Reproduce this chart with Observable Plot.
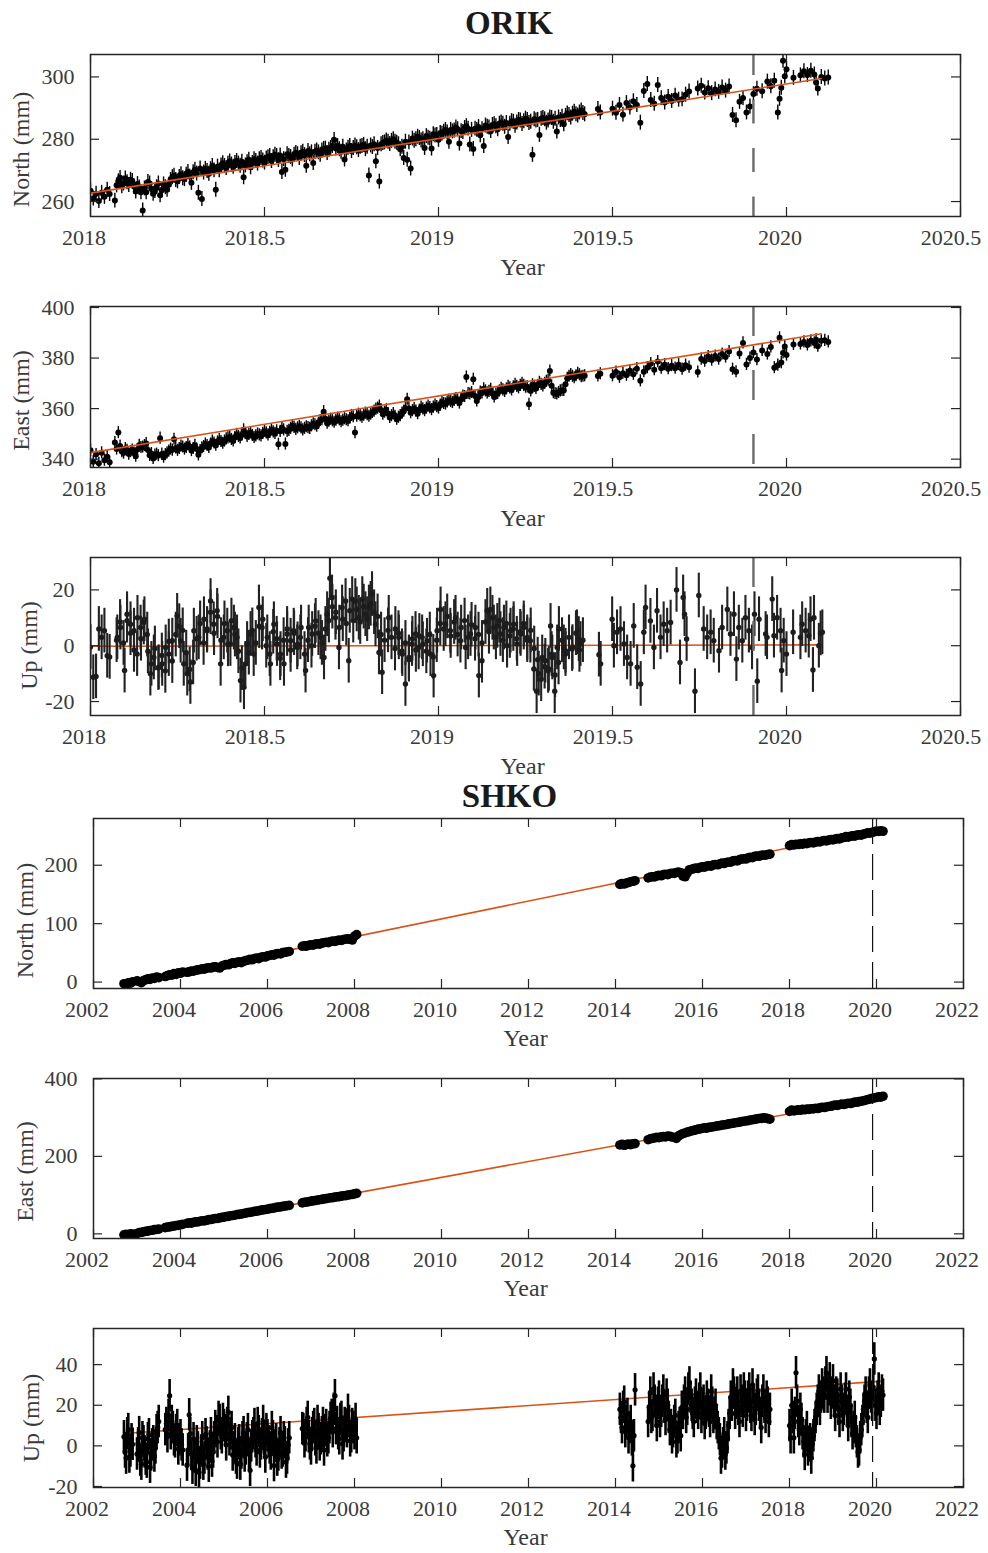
<!DOCTYPE html>
<html lang="en">
<head>
<meta charset="utf-8">
<title>ORIK / SHKO GNSS time series</title>
<script src="https://cdn.jsdelivr.net/npm/d3@7"></script>
<script src="https://cdn.jsdelivr.net/npm/@observablehq/plot@0.6"></script>
<style>
  body { margin: 0; background: #fff; }
  #figure { width: 988px; }
  #figure svg { display: block; }
</style>
</head>
<body>
<div id="figure"></div>
<script>
// ---------------- ORIK daily positions (decimal year, mm) ----------------
const orikYear = [
  2018.000, 2018.008, 2018.016, 2018.024, 2018.032, 2018.040, 2018.048, 2018.055,
  2018.07, 2018.08, 2018.09, 2018.10, 2018.11, 2018.12, 2018.13, 2018.14, 2018.15, 2018.16,
  2018.17, 2018.18, 2018.19, 2018.20, 2018.21, 2018.22, 2018.23, 2018.24, 2018.25, 2018.26,
  2018.27, 2018.28, 2018.29, 2018.30, 2018.31, 2018.32, 2018.33, 2018.34, 2018.35, 2018.36,
  2018.37, 2018.38, 2018.39, 2018.40, 2018.41, 2018.42, 2018.43, 2018.44, 2018.45, 2018.46,
  2018.47, 2018.48, 2018.49, 2018.50, 2018.51, 2018.52, 2018.53, 2018.54, 2018.55, 2018.56,
  2018.57, 2018.58, 2018.59, 2018.60, 2018.61, 2018.62, 2018.63, 2018.64, 2018.65, 2018.66,
  2018.67, 2018.68, 2018.69, 2018.70, 2018.71, 2018.72, 2018.73, 2018.74, 2018.75, 2018.76,
  2018.77, 2018.78, 2018.79, 2018.80, 2018.81, 2018.82, 2018.83, 2018.84, 2018.85, 2018.86,
  2018.87, 2018.88, 2018.89, 2018.90, 2018.91, 2018.92, 2018.93, 2018.94, 2018.95, 2018.96,
  2018.97, 2018.98, 2018.99, 2019.00, 2019.01, 2019.02, 2019.03, 2019.04, 2019.05, 2019.06,
  2019.07, 2019.08, 2019.09, 2019.10, 2019.11, 2019.12, 2019.13, 2019.14, 2019.15, 2019.16,
  2019.17, 2019.18, 2019.19, 2019.20, 2019.21, 2019.22, 2019.23, 2019.24, 2019.25, 2019.26,
  2019.27, 2019.28, 2019.29, 2019.30, 2019.31, 2019.32, 2019.33, 2019.34, 2019.35, 2019.36,
  2019.37, 2019.38, 2019.39, 2019.40, 2019.41, 2019.42,
  2019.458, 2019.465,
  2019.50, 2019.51, 2019.52, 2019.53, 2019.54, 2019.55, 2019.56, 2019.57, 2019.58, 2019.59,
  2019.60, 2019.61, 2019.62, 2019.63, 2019.64, 2019.65, 2019.66, 2019.67, 2019.68, 2019.69,
  2019.70, 2019.71, 2019.72,
  2019.745,
  2019.755, 2019.765, 2019.775, 2019.785, 2019.795, 2019.805, 2019.815, 2019.825, 2019.835,
  2019.845, 2019.855, 2019.865, 2019.875, 2019.885, 2019.895, 2019.905, 2019.915,
  2019.930, 2019.945, 2019.955, 2019.965, 2019.975, 2019.980, 2019.985, 2019.990, 2019.995, 2020.000,
  2020.020,
  2020.040, 2020.050, 2020.060, 2020.070, 2020.080, 2020.085, 2020.090, 2020.100, 2020.110, 2020.120
];
const orikNorth = [
  263.5, 261.0, 262.5, 260.2, 262.8, 261.5, 263.8, 262.4,
  260.3, 266.5, 264.9, 267.4, 265.3, 266.6, 263.2, 264.5, 257.1, 263.0,
  265.8, 262.5, 264.6, 262.0, 265.5, 263.8, 266.9, 268.3, 266.5, 268.8,
  267.2, 269.5, 266.0, 270.2, 262.8, 260.8, 270.5, 268.9, 271.4, 263.8,
  270.0, 272.3, 270.8, 272.9, 271.2, 273.0, 271.5, 267.8, 272.6, 271.0,
  273.6, 272.2, 274.0, 272.5, 274.2, 273.0, 275.0, 273.3, 269.5, 270.2,
  274.6, 273.5, 275.6, 274.0, 276.0, 271.5, 275.2, 272.4, 276.4, 275.0,
  276.9, 275.6, 277.2, 279.8, 277.8, 276.0, 273.5, 277.3, 276.2, 278.0,
  276.5, 277.8, 276.8, 268.4, 277.5, 272.9, 266.4, 278.8, 279.6, 278.5,
  280.0, 278.9, 276.8, 274.0, 273.4, 270.6, 279.5, 280.8, 279.6, 277.2,
  280.5, 277.0, 281.2, 279.8, 281.8, 283.0, 279.2, 282.5, 283.8, 278.6,
  282.3, 284.2, 278.3, 276.9, 283.0, 281.3, 277.8, 284.0, 282.6, 284.8,
  283.2, 285.4, 284.0, 280.7, 285.8, 284.3, 286.2, 284.9, 286.6, 285.2,
  275.0, 286.0, 281.4, 286.8, 285.3, 287.0, 285.6, 282.5, 286.2, 284.8,
  288.3, 287.0, 288.8, 287.6, 289.2, 288.0,
  289.7, 288.6,
  289.8, 288.5, 291.0, 287.9, 291.6, 290.2, 292.2, 291.0, 285.3, 295.5,
  297.7, 292.6, 291.4, 297.4, 293.2, 291.8, 293.6, 292.3, 294.0, 292.7,
  292.8, 294.3, 295.3,
  296.3,
  297.2, 295.0, 296.4, 294.8, 296.0, 295.2, 296.6, 295.6, 296.9,
  287.8, 286.1, 292.0, 293.2, 288.6, 290.5, 294.5, 296.2,
  295.4, 298.5, 297.0, 298.8, 288.6, 293.0, 296.5, 305.2, 300.2, 302.5,
  299.7,
  300.5, 301.8, 300.6, 302.0, 300.8, 298.2, 296.3, 300.0, 299.5, 299.8
];
const orikEast = [
  343.5, 339.0, 341.8, 338.4, 342.5, 339.6, 341.0, 338.8,
  346.6, 350.5, 343.0, 344.2, 342.0, 343.6, 341.2, 345.5, 344.8, 346.2,
  341.5, 340.3, 342.0, 348.3, 340.8, 342.5, 344.0, 347.9, 343.5, 345.2,
  344.0, 345.8, 343.4, 345.5, 341.7, 344.5, 346.0, 344.6, 347.2, 345.5,
  347.8, 346.3, 348.0, 348.8, 347.2, 349.8, 348.4, 351.6, 349.0, 350.4,
  348.6, 350.0, 349.2, 351.0, 349.6, 351.5, 350.2, 345.9, 352.3, 346.0,
  351.4, 353.2, 351.8, 353.0, 351.6, 352.8, 352.2, 354.0, 353.0, 355.3,
  358.8, 354.2, 355.8, 354.6, 356.2, 354.8, 356.0, 355.2, 357.3, 350.5,
  357.8, 356.6, 358.2, 357.0, 358.5, 359.8, 361.0, 357.8, 359.5, 356.5,
  358.0, 355.8, 357.2, 359.0, 363.7, 358.4, 360.0, 358.0, 360.6, 359.2,
  361.0, 359.6, 361.4, 360.2, 362.5, 361.8, 363.3, 362.4, 364.0, 362.2,
  365.0, 372.5, 365.8, 371.6, 363.0, 366.5, 367.8, 366.2, 367.6, 364.6,
  366.0, 368.0, 366.8, 368.8, 367.4, 369.6, 368.2, 370.0, 368.5, 361.7,
  369.4, 368.0, 370.4, 369.0, 370.8, 374.9, 366.3, 365.8, 367.0, 367.2,
  372.0, 373.5, 372.2, 374.0, 372.6, 373.0,
  372.9, 373.8,
  373.0, 374.5, 372.4, 374.0, 373.2, 375.0, 373.6, 375.8, 371.0, 374.6,
  376.2, 377.8, 375.4, 378.6, 376.0, 377.4, 375.8, 377.0, 376.0, 377.4,
  375.6, 377.2, 376.4,
  374.5,
  379.6, 378.8, 380.6, 379.2, 380.8, 379.6, 381.6, 380.4, 382.6,
  375.6, 374.6, 381.8, 386.0, 377.5, 380.0, 382.2, 379.4,
  383.0, 381.6, 384.4, 376.2, 377.2, 388.0, 378.2, 382.0, 384.6, 381.2,
  385.4,
  385.6, 386.4, 385.2, 386.8, 386.0, 387.2, 384.7, 386.8, 387.0, 386.4
];
// additional daily solutions inside the continuous 2018.07–2019.42 stretch
const orikDenseYear = [
  2018.075, 2018.085, 2018.095,
  2018.105, 2018.115, 2018.125, 2018.135, 2018.145, 2018.155, 2018.165, 2018.175, 2018.185, 2018.195,
  2018.205, 2018.215, 2018.225, 2018.235, 2018.245, 2018.255, 2018.265, 2018.275, 2018.285, 2018.295,
  2018.305, 2018.315, 2018.325, 2018.335, 2018.345, 2018.355, 2018.365, 2018.375, 2018.385, 2018.395,
  2018.405, 2018.415, 2018.425, 2018.435, 2018.445, 2018.455, 2018.465, 2018.475, 2018.485, 2018.495,
  2018.505, 2018.515, 2018.525, 2018.535, 2018.545, 2018.555, 2018.565, 2018.575, 2018.585, 2018.595,
  2018.605, 2018.615, 2018.625, 2018.635, 2018.645, 2018.655, 2018.665, 2018.675, 2018.685, 2018.695,
  2018.705, 2018.715, 2018.725, 2018.735, 2018.745, 2018.755, 2018.765, 2018.775, 2018.785, 2018.795,
  2018.805, 2018.815, 2018.825, 2018.835, 2018.845, 2018.855, 2018.865, 2018.875, 2018.885, 2018.895,
  2018.905, 2018.915, 2018.925, 2018.935, 2018.945, 2018.955, 2018.965, 2018.975, 2018.985, 2018.995,
  2019.005, 2019.015, 2019.025, 2019.035, 2019.045, 2019.055, 2019.065, 2019.075, 2019.085, 2019.095,
  2019.105, 2019.115, 2019.125, 2019.135, 2019.145, 2019.155, 2019.165, 2019.175, 2019.185, 2019.195,
  2019.205, 2019.215, 2019.225, 2019.235, 2019.245, 2019.255, 2019.265, 2019.275, 2019.285, 2019.295,
  2019.305, 2019.315, 2019.325, 2019.335, 2019.345, 2019.355, 2019.365, 2019.375, 2019.385, 2019.395,
  2019.405, 2019.415
];
const orikDenseNorth = [
  265.2, 267.6, 265.8,
  266.2, 267.0, 264.8, 265.6, 263.0, 264.2, 266.3, 264.0, 263.4, 265.8,
  263.6, 264.6, 265.4, 267.8, 266.9, 267.9, 267.5, 268.6, 268.0, 269.4,
  269.0, 270.6, 269.3, 269.8, 270.4, 270.0, 271.2, 271.6, 271.4, 272.1,
  271.9, 272.4, 272.2, 272.8, 271.6, 273.4, 272.4, 273.0, 273.6, 273.2,
  273.8, 274.6, 274.2, 274.6, 274.8, 273.6, 275.2, 274.3, 275.0, 275.2,
  275.5, 274.9, 276.2, 275.8, 276.0, 275.8, 276.4, 277.0, 276.6, 277.8,
  277.0, 276.8, 277.6, 276.4, 277.8, 277.2, 277.4, 277.6, 278.2, 277.6,
  278.0, 278.4, 277.2, 278.4, 279.0, 279.2, 279.5, 279.2, 278.4, 277.6,
  279.2, 279.0, 280.2, 280.0, 280.4, 280.0, 281.0, 280.2, 281.6, 281.4,
  282.0, 282.4, 282.2, 283.0, 282.8, 283.2, 282.6, 283.6, 283.4, 283.0,
  283.4, 283.9, 283.2, 284.4, 283.8, 284.6, 284.2, 285.0, 285.0, 285.2,
  285.0, 285.6, 285.4, 286.0, 285.8, 286.2, 285.6, 286.4, 286.2, 286.6,
  286.4, 286.0, 286.8, 286.6, 287.0, 287.2, 287.5, 287.8, 288.2, 288.0,
  288.6, 288.4
];
const orikDenseEast = [
  344.0, 345.2, 342.4,
  343.5, 343.0, 342.4, 343.8, 344.6, 345.4, 343.6, 342.2, 341.6, 341.4,
  342.0, 341.8, 343.2, 343.6, 344.4, 344.2, 344.8, 344.6, 344.8, 344.2,
  344.0, 343.4, 345.0, 345.4, 346.0, 346.4, 346.8, 347.0, 347.2, 348.4,
  347.8, 348.6, 349.0, 349.6, 350.2, 349.8, 349.4, 349.2, 349.6, 350.2,
  350.4, 350.6, 350.8, 351.2, 351.0, 351.6, 351.0, 352.2, 352.6, 352.4,
  352.4, 352.2, 352.5, 353.2, 353.6, 354.2, 355.6, 356.0, 355.0, 355.2,
  355.4, 355.6, 355.4, 355.6, 356.2, 356.8, 357.0, 357.2, 357.4, 357.6,
  357.8, 359.0, 360.2, 359.4, 358.6, 358.0, 357.2, 357.0, 356.6, 358.2,
  360.2, 360.0, 359.2, 359.0, 359.4, 359.9, 360.2, 360.4, 360.6, 360.8,
  361.4, 362.0, 362.6, 362.8, 363.2, 363.2, 363.6, 364.8, 366.0, 366.4,
  365.0, 364.6, 366.2, 367.0, 366.8, 366.0, 365.8, 367.0, 367.4, 367.8,
  368.2, 368.6, 368.8, 369.2, 369.2, 368.6, 367.0, 368.8, 369.2, 369.6,
  370.0, 371.2, 369.0, 366.0, 366.4, 367.2, 369.6, 372.8, 372.8, 373.0,
  373.4, 372.8
];
const orikDenseUp = [
  2.0, 8.5, 1.0,
  9.0, 4.5, -1.5, 10.0, 2.5, 9.5, -2.0, -6.5, -1.0, -8.0,
  -3.5, -9.0, 1.5, -5.5, 4.0, 7.0, 5.5, -2.5, -8.5, -6.0,
  2.5, 8.0, 1.0, 6.0, 12.0, 4.5, 10.5, 2.0, 8.0, 0.5,
  9.0, 4.0, -2.0, -8.0, -6.5, -2.5, 5.5, 1.0, 7.0, 9.5,
  0.0, -3.0, 5.0, 2.5, -4.5, 2.0, 6.0, -1.5, 4.5, 0.5,
  6.5, -3.0, 2.0, 0.0, 7.0, 4.5, 1.0, 6.0, 9.0, 14.0,
  12.0, 6.5, 9.5, 8.0, 12.5, 9.0, 13.0, 8.5, 14.0, 9.5,
  15.0, 12.0, 10.5, 4.0, 2.0, 5.5, 3.0, -1.0, 4.5, -2.0,
  1.0, -5.0, 2.5, -1.5, 3.5, 0.5, -2.0, 4.0, -4.0, 2.0,
  8.0, 6.0, 10.5, 3.5, 8.5, 4.0, 6.5, 9.0, 3.0, 7.5,
  2.5, 4.0, 1.0, 8.5, 5.0, 10.0, 3.0, 9.0, 2.0, 8.0,
  3.5, 6.0, 2.5, 5.0, 8.0, 2.0, 5.5, -1.0, -5.0, -12.0,
  -7.5, -9.0, -3.0, -10.5, -6.0, 2.0, -3.0, 3.0, -0.5, 4.5,
  -1.5, 2.0
];
const orikUpYear = [
  2018.000, 2018.008, 2018.016, 2018.024, 2018.032, 2018.040, 2018.048, 2018.055, 2018.077, 2018.086,
  2018.098, 2018.105, 2018.115, 2018.125, 2018.134, 2018.144, 2018.153, 2018.163, 2018.172, 2018.182,
  2018.196, 2018.206, 2018.216, 2018.225, 2018.235, 2018.249, 2018.259, 2018.268, 2018.278, 2018.287,
  2018.297, 2018.311, 2018.326, 2018.335, 2018.345, 2018.354, 2018.364, 2018.374, 2018.383, 2018.393,
  2018.402, 2018.412, 2018.421, 2018.431, 2018.441, 2018.450, 2018.460, 2018.469, 2018.484, 2018.493,
  2018.508, 2018.517, 2018.527, 2018.536, 2018.546, 2018.556, 2018.565, 2018.575, 2018.584, 2018.594,
  2018.603, 2018.618, 2018.627, 2018.637, 2018.647, 2018.661, 2018.671, 2018.680, 2018.688, 2018.694,
  2018.704, 2018.714, 2018.723, 2018.733, 2018.742, 2018.752, 2018.761, 2018.771, 2018.781, 2018.790,
  2018.800, 2018.809, 2018.819, 2018.829, 2018.838, 2018.857, 2018.876, 2018.886, 2018.896, 2018.905,
  2018.915, 2018.924, 2018.934, 2018.943, 2018.953, 2018.967, 2018.977, 2018.986, 2018.996, 2019.006,
  2019.020, 2019.034, 2019.049, 2019.063, 2019.078, 2019.092, 2019.106, 2019.116, 2019.125, 2019.140,
  2019.149, 2019.159, 2019.169, 2019.178, 2019.188, 2019.197, 2019.207, 2019.216, 2019.226, 2019.236,
  2019.245, 2019.255, 2019.264, 2019.274, 2019.282, 2019.288, 2019.298, 2019.307, 2019.317, 2019.322,
  2019.327, 2019.334, 2019.341, 2019.346, 2019.360, 2019.365, 2019.384, 2019.398, 2019.403, 2019.408,
  2019.461, 2019.466, 2019.499, 2019.504, 2019.513, 2019.523, 2019.533, 2019.542, 2019.552, 2019.561,
  2019.571, 2019.581, 2019.590, 2019.595, 2019.609, 2019.619, 2019.628, 2019.638, 2019.647, 2019.657,
  2019.667, 2019.684, 2019.694, 2019.703, 2019.707, 2019.713, 2019.737, 2019.748, 2019.762, 2019.772,
  2019.782, 2019.791, 2019.806, 2019.815, 2019.830, 2019.839, 2019.849, 2019.856, 2019.863, 2019.873,
  2019.882, 2019.892, 2019.901, 2019.908, 2019.916, 2019.921, 2019.940, 2019.944, 2019.959, 2019.964,
  2019.973, 2019.983, 2019.986, 2019.992, 2020.000, 2020.019, 2020.040, 2020.045, 2020.055, 2020.064,
  2020.069, 2020.076, 2020.079, 2020.093, 2020.098, 2020.103
];
const orikUp = [
  -0.5, -11.3, -11.0, 6.0, 3.0, 5.4, -3.6, -4.0, 3.0, 6.5,
  -8.9, 11.3, 7.7, 5.4, -3.0, 6.5, 8.3, 4.0, -10.0, -4.2,
  -7.7, -6.5, -0.6, -3.0, 1.8, 10.7, 1.8, -6.5, -10.0, -13.0,
  5.4, 3.0, 9.5, 5.4, 16.0, 7.7, 12.5, -6.5, 3.0, 5.4,
  0.6, 6.5, 3.0, -12.5, -14.9, 0.6, 4.2, -3.0, 13.7, 6.5,
  3.0, -6.5, 7.7, 0.6, -3.0, -6.5, 4.2, 1.8, 5.4, -0.6,
  3.0, -8.9, 6.5, 4.2, 8.9, 3.0, -4.2, 11.3, 24.2, 17.3,
  10.0, -0.6, 13.7, 16.0, -5.4, 16.7, 16.0, 10.0, 16.7, 11.3,
  13.7, 18.5, 7.7, -2.4, -9.5, 10.0, 6.0, 3.0, -3.0, -13.7,
  -4.2, 0.6, 4.2, -0.6, 3.0, 1.8, -3.0, -10.7, 5.4, 13.0,
  7.7, 5.4, 10.0, 1.8, -0.6, 4.2, 6.5, -10.7, -5.4, 12.5,
  13.0, 6.5, 7.1, 4.2, 6.5, 0.0, 5.4, 7.7, 0.6, 4.2,
  6.5, 3.0, 1.8, -8.3, -16.3, -10.0, -4.2, -5.4, -8.3, 7.1,
  -4.2, -16.3, -0.6, 6.0, -0.6, -1.8, -1.2, 4.8, 2.4, 0.6,
  -3.2, -6.5, 9.5, 0.0, 4.8, 6.0, 0.6, -4.2, -6.5, 7.1,
  -7.7, -13.7, 4.8, 13.7, 8.9, -0.6, 12.5, 3.0, 7.7, 5.4,
  8.3, 20.0, -6.0, 17.3, 11.3, 2.4, -16.3, 18.0, 6.0, 3.0,
  4.8, 1.8, -1.8, 6.5, 13.0, 4.2, 11.3, -4.8, 6.5, 1.8,
  10.0, 5.4, -0.6, 11.3, -12.7, 9.5, 4.2, 3.0, 16.7, 3.6,
  10.0, 5.4, -8.9, 1.8, -3.0, 4.8, 3.0, 7.7, 5.4, 3.6,
  9.5, -8.7, 10.0, 0.0, 4.4, 4.8
];
// one-sigma formal errors (mm)
const orikSigmaNorth = 2.4;
const orikSigmaEast = 2.4;
const orikSigmaUp = 8.0;
// linear velocity fits (end points)
const orikTrendYear = [2018.0, 2020.1];
const orikTrendNorth = [262.7, 299.5];
const orikTrendEast = [342.6, 389.6];
const orikTrendUp = [-0.2, 0.3];
const orikEventYear = 2019.905;

// ---------------- SHKO positions (decimal year, mm) ----------------
const shkoYear = [
  2002.70, 2002.75, 2002.80, 2002.85, 2002.90,
  2003.00, 2003.05, 2003.10, 2003.15, 2003.20, 2003.25, 2003.30, 2003.35, 2003.40, 2003.45, 2003.50,
  2003.65, 2003.70, 2003.75, 2003.80, 2003.85, 2003.90, 2003.95, 2004.00, 2004.05,
  2004.15, 2004.20, 2004.25, 2004.30, 2004.35, 2004.40, 2004.45, 2004.50, 2004.55, 2004.60,
  2004.65, 2004.70, 2004.75, 2004.80, 2004.85, 2004.90, 2004.95, 2005.00, 2005.05, 2005.10,
  2005.15, 2005.20, 2005.25, 2005.30, 2005.35, 2005.40, 2005.45, 2005.50, 2005.55, 2005.60,
  2005.65, 2005.70, 2005.75, 2005.80, 2005.85, 2005.90, 2005.95, 2006.00, 2006.05, 2006.10,
  2006.15, 2006.20, 2006.25, 2006.30, 2006.35, 2006.40, 2006.45, 2006.50,
  2006.80, 2006.85, 2006.90, 2006.95, 2007.00, 2007.05, 2007.10, 2007.15, 2007.20, 2007.25,
  2007.30, 2007.35, 2007.40, 2007.45, 2007.50, 2007.55, 2007.60, 2007.65, 2007.70, 2007.75,
  2007.80, 2007.85, 2007.90, 2007.95, 2008.00, 2008.05,
  2014.10, 2014.15, 2014.20, 2014.25, 2014.30, 2014.35, 2014.40, 2014.45,
  2014.75, 2014.80, 2014.85, 2014.90, 2014.95,
  2015.00, 2015.05, 2015.10, 2015.15, 2015.20, 2015.25, 2015.30, 2015.35, 2015.40, 2015.45,
  2015.50, 2015.55, 2015.60, 2015.65, 2015.70, 2015.75, 2015.80, 2015.85, 2015.90, 2015.95,
  2016.00, 2016.05, 2016.10, 2016.15, 2016.20, 2016.25, 2016.30, 2016.35, 2016.40, 2016.45,
  2016.50, 2016.55, 2016.60, 2016.65, 2016.70, 2016.75, 2016.80, 2016.85, 2016.90, 2016.95,
  2017.00, 2017.05, 2017.10, 2017.15, 2017.20, 2017.25, 2017.30, 2017.35, 2017.40, 2017.45,
  2017.50, 2017.55,
  2018.00, 2018.05, 2018.10, 2018.15, 2018.20, 2018.25, 2018.30, 2018.35, 2018.40, 2018.45,
  2018.50, 2018.55, 2018.60, 2018.65, 2018.70, 2018.75, 2018.80, 2018.85, 2018.90, 2018.95,
  2019.00, 2019.05, 2019.10, 2019.15, 2019.20, 2019.25, 2019.30, 2019.35, 2019.40, 2019.45,
  2019.50, 2019.55, 2019.60, 2019.65, 2019.70, 2019.75, 2019.80, 2019.85, 2019.90, 2019.95,
  2020.00, 2020.05, 2020.10, 2020.15
];
const shkoNorth = [
  -2.8, -4.6, -1.2, -1.8, 0.6,
  2.2, 1.0, -1.0, 2.5, 4.0, 5.8, 4.6, 6.9, 6.2, 8.8, 7.6,
  9.5, 11.0, 12.4, 11.8, 14.6, 13.2, 15.9, 15.0, 17.0,
  16.8, 17.5, 19.0, 18.6, 20.2, 20.8, 21.4, 22.9, 22.2, 23.8,
  24.6, 24.0, 25.8, 26.2, 25.0, 24.1, 27.3, 28.8, 30.2, 29.6,
  31.5, 32.8, 32.0, 33.9, 34.6, 33.2, 35.4, 36.8, 37.5, 38.9,
  38.2, 40.4, 41.0, 40.2, 42.6, 43.4, 42.8, 44.9, 45.6, 46.8,
  46.0, 48.2, 49.0, 48.3, 50.4, 50.9, 51.6, 52.4,
  61.2, 62.0, 61.5, 63.0, 63.8, 63.2, 64.9, 65.6, 65.0, 66.8,
  67.4, 68.2, 67.6, 69.5, 70.2, 69.6, 71.0, 71.8, 71.2, 72.9,
  73.6, 74.0, 73.2, 72.0, 78.5, 81.2,
  167.2, 168.5, 167.8, 169.6, 170.4, 171.8, 172.6, 173.5,
  178.2, 179.6, 180.4, 180.0, 181.8,
  182.6, 182.0, 183.9, 184.5, 183.8, 185.6, 186.4, 186.0, 187.5, 188.3,
  187.2, 181.5, 180.2, 186.8, 192.4, 193.0, 194.2, 195.1, 194.6, 196.5,
  197.2, 196.8, 198.6, 199.2, 198.5, 200.6, 201.3, 200.8, 202.5, 203.6,
  202.9, 204.8, 205.6, 205.2, 207.4, 208.0, 207.5, 209.6, 210.4, 211.2,
  210.6, 212.8, 213.5, 213.0, 215.2, 215.9, 215.4, 216.8, 217.6, 217.2,
  218.4, 219.0,
  233.5, 235.2, 234.6, 236.0, 235.4, 236.8, 236.2, 237.5, 236.9, 238.4,
  239.0, 238.2, 239.8, 240.5, 239.9, 241.6, 242.3, 241.7, 243.2, 244.0,
  243.4, 244.9, 245.6, 245.0, 246.8, 247.5, 248.9, 248.2, 249.6, 250.4,
  249.8, 251.5, 252.2, 251.6, 253.4, 254.1, 255.5, 254.8, 256.4, 257.2,
  258.5, 257.8, 259.0, 258.2
];
const shkoEast = [
  -2.4, -1.0, -3.0, 0.2, -0.8,
  1.0, 3.2, 3.8, 5.0, 6.6, 7.0, 8.8, 9.2, 10.8, 11.4, 12.2,
  16.2, 17.5, 18.0, 19.4, 20.1, 21.5, 22.0, 23.6, 24.4,
  27.2, 28.4, 27.8, 29.6, 30.8, 31.0, 32.6, 33.8, 33.4, 35.0,
  36.6, 36.9, 38.4, 39.6, 39.8, 41.2, 42.6, 43.0, 44.8, 45.2,
  46.9, 47.4, 48.2, 49.8, 50.4, 51.2, 52.6, 53.4, 55.0, 55.4,
  56.5, 57.9, 58.6, 59.6, 61.2, 61.8, 62.9, 63.6, 65.2, 65.8,
  66.7, 68.4, 68.9, 69.6, 71.0, 71.8, 72.6, 73.4,
  80.0, 81.6, 82.2, 83.0, 84.6, 85.2, 86.0, 87.4, 88.1, 89.0,
  90.3, 90.8, 92.0, 93.1, 93.6, 94.8, 95.7, 96.2, 97.5, 98.4,
  98.8, 100.2, 101.0, 101.8, 103.2, 104.6,
  229.5, 231.0, 228.6, 230.4, 231.8, 230.2, 232.4, 233.0,
  243.0, 245.2, 246.8, 247.6, 249.0,
  248.2, 250.4, 251.0, 250.2, 252.4, 251.6, 250.0, 248.8, 246.2, 252.8,
  256.0, 258.8, 260.4, 262.6, 263.8, 265.9, 267.0, 268.4, 270.2, 271.0,
  272.4, 273.6, 272.8, 274.9, 275.6, 276.4, 277.9, 278.6, 279.4, 280.8,
  281.6, 282.2, 283.9, 284.6, 285.4, 286.8, 287.6, 288.4, 289.6, 290.8,
  291.4, 292.2, 293.8, 294.6, 295.4, 296.8, 297.6, 298.2, 299.6, 298.8,
  297.4, 296.0,
  316.0, 319.5, 317.2, 318.8, 320.4, 319.0, 321.2, 320.2, 322.0, 321.4,
  323.0, 322.4, 324.2, 323.6, 325.4, 326.8, 326.0, 327.6, 328.8, 329.4,
  331.0, 332.2, 331.6, 333.4, 334.8, 334.0, 335.6, 337.2, 336.4, 338.0,
  340.4, 339.6, 341.2, 342.4, 343.6, 345.0, 346.8, 348.0, 349.6, 350.8,
  352.0, 353.6, 352.8, 355.2
];
const shkoUp = [
  4.5, -6.0, 8.0, -2.5, 0.8,
  -4.0, 6.5, -9.0, 2.0, -6.5, 3.5, -10.5, 0.5, -5.0, 7.5, 12.0,
  8.0, 4.5, 24.7, 12.0, 3.0, 7.5, -1.5, 5.0, -2.0,
  -9.5, 15.3, -4.0, 3.5, -12.0, -1.0, -8.5, 4.0, -6.0, 1.5,
  -10.0, 6.0, -3.0, 9.5, 2.0, 12.5, 4.0, 10.0, 0.5, 16.5,
  6.0, -4.5, 3.0, -8.5, 2.5, -3.5, 6.5, -1.5, 8.0, -12.0,
  4.5, 10.5, -2.0, 7.0, 1.0, 12.0, -5.5, 5.0, -1.0, 9.0,
  -9.7, 3.0, -4.5, 6.5, -2.5, 1.5, -6.0, 4.0,
  8.5, 2.0, 11.0, 4.5, -1.5, 9.0, 3.0, 12.0, 0.5, 6.5,
  -2.0, 10.0, 4.0, 13.5, 7.0, 24.7, 11.5, 3.5, 14.0, 5.0,
  9.5, 17.5, 2.5, 10.5, 6.0, 4.0,
  18.0, 9.0, 21.5, 12.0, 4.0, 12.0, -9.8, 27.6,
  12.0, 26.0, 15.0, 22.0, 10.0,
  24.0, 17.0, 27.0, 13.0, 20.0, 8.0, 4.0, 12.0, 2.0, 9.0,
  5.0, 16.0, 26.0, 18.0, 31.0, 20.0, 12.0, 25.0, 16.0, 28.0,
  19.0, 11.0, 24.0, 17.0, 27.0, 14.0, 20.0, 9.0, 3.0, -3.0,
  6.0, -1.0, 10.0, 24.0, 30.0, 16.0, 26.0, 12.0, 22.0, 28.0,
  15.0, 24.0, 19.0, 30.0, 13.0, 25.0, 20.0, 9.0, 27.0, 14.0,
  21.0, 18.0,
  10.0, 20.0, 4.0, 36.0, 12.0, 18.0, 6.0, -4.2, 9.0, 0.0,
  -6.0, 5.0, 14.0, 22.0, 18.0, 30.0, 24.0, 36.0, 28.0, 21.0,
  32.0, 15.0, 25.0, 12.0, 22.0, 18.0, 28.0, 10.0, 20.0, 6.0,
  14.0, 2.0, -2.0, 8.0, 18.0, 26.0, 14.0, 30.0, 20.0, 42.8,
  16.0, 28.0, 22.0, 25.0
];
// additional vertical solutions between the epochs above
const shkoUpDenseYear = [
  2002.725, 2002.775, 2002.825, 2002.875,
  2003.025, 2003.075, 2003.125, 2003.175, 2003.225, 2003.275, 2003.325, 2003.375, 2003.425, 2003.475,
  2003.675, 2003.725, 2003.775, 2003.825, 2003.875, 2003.925, 2003.975, 2004.025,
  2004.175, 2004.225, 2004.275, 2004.325, 2004.375, 2004.425, 2004.475, 2004.525, 2004.575, 2004.625,
  2004.675, 2004.725, 2004.775, 2004.825, 2004.875, 2004.925, 2004.975, 2005.025, 2005.075, 2005.125,
  2005.175, 2005.225, 2005.275, 2005.325, 2005.375, 2005.425, 2005.475, 2005.525, 2005.575, 2005.625,
  2005.675, 2005.725, 2005.775, 2005.825, 2005.875, 2005.925, 2005.975, 2006.025, 2006.075, 2006.125,
  2006.175, 2006.225, 2006.275, 2006.325, 2006.375, 2006.425, 2006.475,
  2006.825, 2006.875, 2006.925, 2006.975, 2007.025, 2007.075, 2007.125, 2007.175, 2007.225, 2007.275,
  2007.325, 2007.375, 2007.425, 2007.475, 2007.525, 2007.575, 2007.625, 2007.675, 2007.725, 2007.775,
  2007.825, 2007.875, 2007.925, 2007.975, 2008.025,
  2014.125, 2014.175, 2014.225, 2014.275, 2014.325, 2014.375, 2014.425,
  2014.775, 2014.825, 2014.875, 2014.925, 2014.975, 2015.025, 2015.075, 2015.125, 2015.175, 2015.225,
  2015.275, 2015.325, 2015.375, 2015.425, 2015.475, 2015.525, 2015.575, 2015.625, 2015.675, 2015.725,
  2015.775, 2015.825, 2015.875, 2015.925, 2015.975, 2016.025, 2016.075, 2016.125, 2016.175, 2016.225,
  2016.275, 2016.325, 2016.375, 2016.425, 2016.475, 2016.525, 2016.575, 2016.625, 2016.675, 2016.725,
  2016.775, 2016.825, 2016.875, 2016.925, 2016.975, 2017.025, 2017.075, 2017.125, 2017.175, 2017.225,
  2017.275, 2017.325, 2017.375, 2017.425, 2017.475, 2017.525,
  2018.025, 2018.075, 2018.125, 2018.175, 2018.225, 2018.275, 2018.325, 2018.375, 2018.425, 2018.475,
  2018.525, 2018.575, 2018.625, 2018.675, 2018.725, 2018.775, 2018.825, 2018.875, 2018.925, 2018.975,
  2019.025, 2019.075, 2019.125, 2019.175, 2019.225, 2019.275, 2019.325, 2019.375, 2019.425, 2019.475,
  2019.525, 2019.575, 2019.625, 2019.675, 2019.725, 2019.775, 2019.825, 2019.875, 2019.925, 2019.975,
  2020.025, 2020.075, 2020.125
];
const shkoUpDense = [
  -3.0, 6.0, -5.5, 3.0,
  1.0, -7.0, 4.0, -3.0, -8.0, 5.5, -4.5, 2.0, -1.0, 9.0,
  11.0, 15.0, 6.0, 9.0, 2.0, 10.0, 3.0, 0.5,
  -2.0, 6.0, -11.0, -5.5, 2.0, -13.0, -2.5, -9.0, 5.5, -4.0,
  -0.5, -7.5, 4.0, 7.0, 14.0, 6.0, 13.0, 7.5, 11.0, 3.0,
  9.0, -1.0, -6.0, 1.0, -9.0, 4.0, -5.0, 3.5, -4.0, 0.0,
  6.0, 2.0, 11.0, -3.0, 5.5, 3.0, 8.0, 2.0, -4.0, 4.5,
  0.0, -7.0, 1.0, -3.5, 4.0, -8.0, 0.5,
  8.0, 5.0, 14.0, 1.0, 6.0, 10.5, -1.0, 8.0, 3.5, 11.0,
  7.5, 2.5, 9.0, 15.0, 18.0, 8.5, 6.0, 13.0, 1.0, 11.0,
  7.0, 12.0, 4.5, 9.0, 13.0,
  14.0, 19.0, 7.0, 15.5, 9.0, 3.0, 5.0,
  19.0, 14.0, 28.0, 17.0, 21.0, 12.0, 22.0, 19.0, 25.0, 14.0,
  10.0, 7.0, 15.0, 4.0, 11.0, 19.0, 22.0, 14.0, 28.0, 24.0,
  16.0, 21.0, 19.0, 23.0, 14.0, 22.0, 16.0, 20.0, 12.0, 21.0,
  16.0, 11.0, 6.0, -6.0, 1.0, -4.0, 4.0, 16.0, 20.0, 26.0,
  21.0, 18.0, 27.0, 17.0, 24.0, 20.0, 28.0, 15.0, 22.0, 18.0,
  27.0, 16.0, 22.0, 19.0, 24.0, 12.0,
  4.0, 14.0, 16.0, 22.0, 8.0, 13.0, 2.0, 5.0, -2.0, 3.0,
  1.0, 10.0, 18.0, 27.0, 24.0, 26.0, 31.0, 24.0, 33.0, 26.0,
  22.0, 26.0, 18.0, 28.0, 15.0, 23.0, 17.0, 24.0, 12.0, 9.0,
  7.0, -3.0, 4.0, 12.0, 22.0, 19.0, 26.0, 24.0, 29.0, 20.0,
  24.0, 18.0, 27.0
];
const shkoSigmaNorth = 2.0;
const shkoSigmaEast = 2.0;
const shkoSigmaUp = 8.0;
const shkoTrendYear = [2002.7, 2020.15];
const shkoTrendNorth = [-3.2, 262.9];
const shkoTrendEast = [-3.8, 354.0];
const shkoTrendUp = [6.1, 31.9];
const shkoEventYear = 2019.91;

// ---------------- axes ----------------
const orikXTicks = [2018, 2018.5, 2019, 2019.5, 2020, 2020.5];
const shkoXTicks = [2002, 2004, 2006, 2008, 2010, 2012, 2014, 2016, 2018, 2020, 2022];
const orikNorthTicks = [260, 280, 300];
const orikEastTicks = [340, 360, 380, 400];
const orikUpTicks = [-20, 0, 20];
const shkoNorthTicks = [0, 100, 200];
const shkoEastTicks = [0, 200, 400];
const shkoUpTicks = [-20, 0, 20, 40];

const FONT = "'Liberation Serif', 'Times New Roman', Times, serif";
const AXIS = "#262626";
const TEXT = "#3a3a3a";
const TREND = "#D95319";
const TICK = 9;

function panel(o) {
  const [left, right, top, bottom] = o.frame;
  const frameW = right - left, frameH = bottom - top;
  const rows = o.years.map((t, i) => ({t, v: o.values[i]}));
  const trend = o.trendYears.map((t, i) => ({t, v: o.trendValues[i]}));
  const fmt = d => String(d);
  const wholeTicks = o.xTicks.filter(Number.isInteger);
  const halfTicks = o.xTicks.filter(d => !Number.isInteger(d));

  const dataMarks = [
    Plot.ruleX(rows, {x: "t", y1: d => d.v - o.sigma, y2: d => d.v + o.sigma,
      stroke: o.barColor, strokeWidth: o.barWidth, clip: true}),
    Plot.dot(rows, {x: "t", y: "v", r: o.r, fill: o.dotColor, stroke: null, clip: true})
  ];
  const trendMark = Plot.lineY(trend, {x: "t", y: "v", stroke: TREND, strokeWidth: 1.6});

  return Plot.plot({
    width: 988,
    height: o.svgHeight,
    marginLeft: left,
    marginRight: 988 - right,
    marginTop: top - o.svgTop,
    marginBottom: o.svgTop + o.svgHeight - bottom,
    x: {domain: o.xDomain, label: null},
    y: {domain: o.yDomain, label: null},
    style: {fontFamily: FONT, fontSize: "22px", color: TEXT, background: "transparent", overflow: "visible"},
    marks: [
      ...(o.trendOnTop ? [...dataMarks, trendMark] : [trendMark, ...dataMarks]),
      Plot.ruleX([o.eventYear], {x: d => d, stroke: o.eventColor, strokeWidth: o.eventWidth,
        strokeDasharray: o.eventDash, strokeDashoffset: o.eventDashOffset}),
      // inward tick marks on all four sides
      Plot.tickX(o.xTicks, {x: d => d, insetTop: frameH - TICK, stroke: AXIS, strokeWidth: 1.2}),
      Plot.tickX(o.xTicks, {x: d => d, insetBottom: frameH - TICK, stroke: AXIS, strokeWidth: 1.2}),
      Plot.tickY(o.yTicks, {y: d => d, insetRight: frameW - TICK, stroke: AXIS, strokeWidth: 1.2}),
      Plot.tickY(o.yTicks, {y: d => d, insetLeft: frameW - TICK, stroke: AXIS, strokeWidth: 1.2}),
      Plot.axisX({ticks: wholeTicks, tickSize: 0, tickPadding: 13, tickFormat: fmt, label: null, dx: -6.5}),
      ...(halfTicks.length ? [Plot.axisX({ticks: halfTicks, tickSize: 0, tickPadding: 13, tickFormat: fmt,
        label: null, dx: -9.5})] : []),
      Plot.axisY({ticks: o.yTicks, tickSize: 0, tickPadding: 16, tickFormat: fmt, label: null}),
      Plot.frame({stroke: AXIS, strokeWidth: 1.5}),
      Plot.text([o.yLabel], {text: d => d, frameAnchor: "left", rotate: -90, dx: o.yLabelX - left,
        dy: o.yLabelDy, fontSize: 24, textAnchor: "middle", lineAnchor: "middle"}),
      Plot.text(["Year"], {text: d => d, frameAnchor: "bottom", dx: o.yearDx, dy: o.yearDy,
        fontSize: 24, lineAnchor: "bottom"}),
      ...(o.title ? [Plot.text([o.title], {text: d => d, frameAnchor: "top", dx: o.titleDx, dy: o.titleDy,
        fontSize: 33, fontWeight: "bold", fill: "#1a1a1a", lineAnchor: "bottom"})] : [])
    ]
  });
}

const orikStyle = {
  xDomain: [2018, 2020.5], xTicks: orikXTicks,
  trendYears: orikTrendYear, eventYear: orikEventYear,
  eventColor: "#6b6b6b", eventWidth: 2.4, eventDash: "30,34", eventDashOffset: 0,
  yearDx: -3, yearDy: 58
};
const shkoStyle = {
  xDomain: [2002, 2022], xTicks: shkoXTicks,
  trendYears: shkoTrendYear, eventYear: shkoEventYear,
  eventColor: "#111", eventWidth: 1.2, eventDash: "26,10", eventDashOffset: 0,
  yearDx: -3, yearDy: 57
};

const panels = [
  panel({...orikStyle, years: [...orikYear, ...orikDenseYear], values: [...orikNorth, ...orikDenseNorth],
    sigma: orikSigmaNorth, trendValues: orikTrendNorth, yDomain: [255.2, 307.2], yTicks: orikNorthTicks,
    eventDash: "24,24.5", eventDashOffset: 3,
    yLabel: "North (mm)", yLabelX: 21, yLabelDy: 14, frame: [90, 960, 54, 216],
    svgTop: 0, svgHeight: 290, r: 3.0, dotColor: "#000", barColor: "#000", barWidth: 1.4,
    trendOnTop: true, title: "ORIK", titleDx: -16.5, titleDy: -21}),
  panel({...orikStyle, years: [...orikYear, ...orikDenseYear], values: [...orikEast, ...orikDenseEast],
    sigma: orikSigmaEast, trendValues: orikTrendEast, yDomain: [336.7, 400.4], yTicks: orikEastTicks,
    yLabel: "East (mm)", yLabelX: 21, yLabelDy: 13.5, frame: [90, 960, 306, 467],
    svgTop: 290, svgHeight: 250, r: 3.0, dotColor: "#000", barColor: "#000", barWidth: 1.4,
    trendOnTop: true}),
  panel({...orikStyle, years: [...orikUpYear, ...orikDenseYear], values: [...orikUp, ...orikDenseUp],
    sigma: orikSigmaUp, trendValues: orikTrendUp, yDomain: [-25, 31.6], yTicks: orikUpTicks,
    yLabel: "Up (mm)", yLabelX: 29, yLabelDy: 9, frame: [90, 960, 557, 715],
    svgTop: 540, svgHeight: 240, r: 2.7, dotColor: "#1c1c1c", barColor: "#222", barWidth: 2.1,
    trendOnTop: false}),
  panel({...shkoStyle, years: shkoYear, values: shkoNorth, sigma: shkoSigmaNorth,
    trendValues: shkoTrendNorth, yDomain: [-11, 280], yTicks: shkoNorthTicks,
    yLabel: "North (mm)", yLabelX: 25, yLabelDy: 17, frame: [93, 963, 818, 988],
    svgTop: 780, svgHeight: 280, r: 4.8, dotColor: "#000", barColor: "#000", barWidth: 1.5,
    trendOnTop: false, title: "SHKO", titleDx: -19, titleDy: -12}),
  panel({...shkoStyle, years: shkoYear, values: shkoEast, sigma: shkoSigmaEast,
    trendValues: shkoTrendEast, yDomain: [-12, 401], yTicks: shkoEastTicks,
    yLabel: "East (mm)", yLabelX: 25, yLabelDy: 13, frame: [93, 963, 1078, 1238],
    svgTop: 1060, svgHeight: 250, r: 4.8, dotColor: "#000", barColor: "#000", barWidth: 1.5,
    trendOnTop: false}),
  panel({...shkoStyle, years: [...shkoYear, ...shkoUpDenseYear], values: [...shkoUp, ...shkoUpDense],
    sigma: shkoSigmaUp, trendValues: shkoTrendUp, yDomain: [-20.5, 57.8], yTicks: shkoUpTicks,
    yLabel: "Up (mm)", yLabelX: 31, yLabelDy: 10, frame: [93, 963, 1328, 1487],
    svgTop: 1310, svgHeight: 243, r: 2.6, dotColor: "#000", barColor: "#000", barWidth: 2.6,
    trendOnTop: false})
];

const figure = document.getElementById("figure");
for (const svg of panels) figure.appendChild(svg);
</script>
</body>
</html>
